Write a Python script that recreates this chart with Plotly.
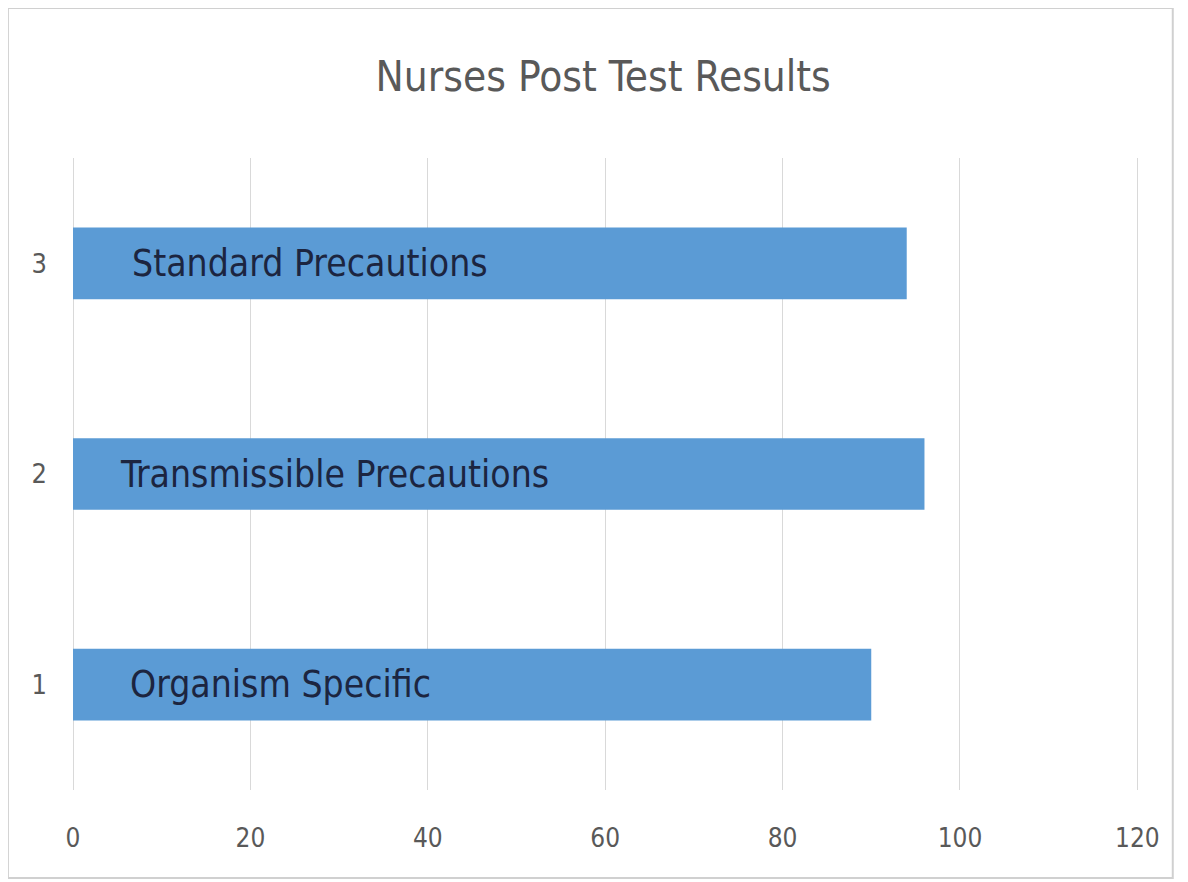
import plotly.graph_objects as go

categories = [1, 2, 3]
labels = ["Organism Specific", "Transmissible Precautions", "Standard Precautions"]
scores = [90, 96, 94]
label_offsets = [6.2, 5.1, 6.4]   # x start of in-bar captions (data units)
x_ticks = [0, 20, 40, 60, 80, 100, 120]

FONT = "Liberation Sans Narrow, DejaVu Sans Condensed, Arial Narrow, sans-serif"
BLUE = "#5b9bd5"
GREY = "#595959"

fig = go.Figure()
fig.add_trace(go.Bar(
    y=categories, x=scores, orientation="h",
    marker=dict(color=BLUE, line=dict(width=0)),
    width=0.34, hoverinfo="x+y",
))

for c, lab, off in zip(categories, labels, label_offsets):
    fig.add_annotation(
        x=off, y=c, xref="x", yref="y", text=lab, showarrow=False,
        xanchor="left", yanchor="middle",
        font=dict(family=FONT, size=37, color="#1c2540"),
    )

# outer frame
fig.add_shape(type="rect", xref="paper", yref="paper",
              x0=-0.0610, x1=1.0307, y0=-0.1392, y1=1.2373,
              line=dict(color="#d0d0d0", width=2), fillcolor="rgba(0,0,0,0)",
              layer="below")

fig.update_layout(
    width=1188, height=882,
    margin=dict(l=65, r=56, t=150, b=100),
    paper_bgcolor="white", plot_bgcolor="white",
    showlegend=False,
    title=dict(text="Nurses Post Test Results", x=0.501, xanchor="center",
               y=0.922, yanchor="middle",
               font=dict(family=FONT, size=42, color=GREY)),
    xaxis=dict(range=[0, 120.3], tickvals=x_ticks, showgrid=True,
               gridcolor="#d9d9d9", gridwidth=1, zeroline=True,
               zerolinecolor="#d9d9d9", zerolinewidth=1,
               showline=False, ticks="", ticklabelstandoff=30,
               tickfont=dict(family=FONT, size=26, color=GREY)),
    yaxis=dict(range=[0.5, 3.5], tickvals=categories, showgrid=False,
               zeroline=False, showline=False, ticks="",
               ticklabelstandoff=25,
               tickfont=dict(family=FONT, size=27, color=GREY)),
)

fig.write_html("out.html")
